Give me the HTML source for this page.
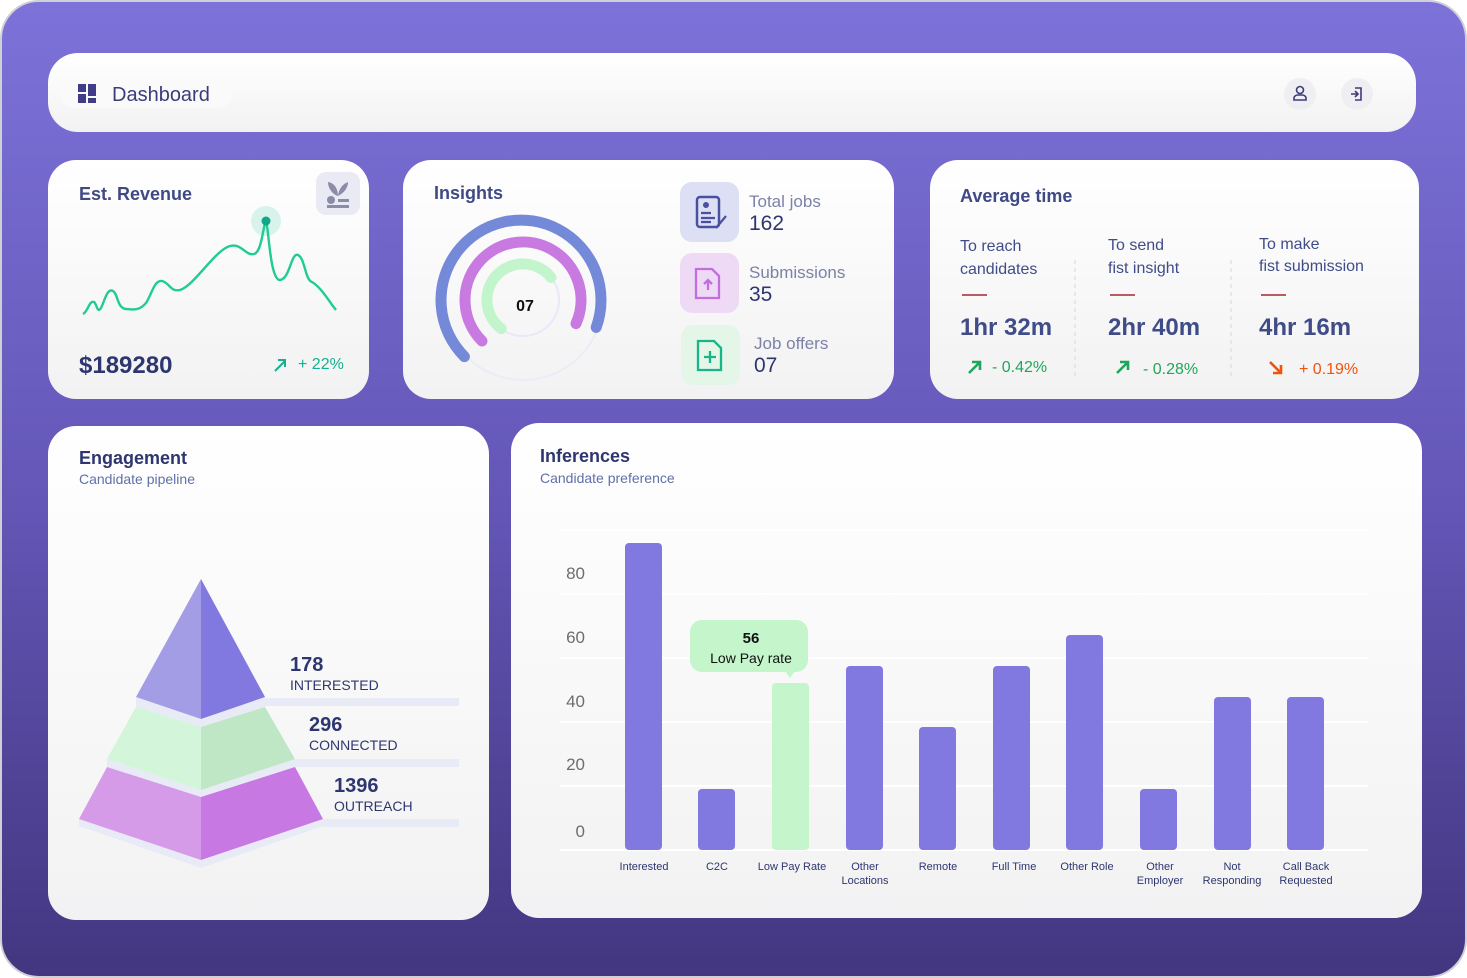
<!DOCTYPE html>
<html><head><meta charset="utf-8"><style>
html,body{margin:0;padding:0;background:#fff;}
svg{display:block;font-family:"Liberation Sans",sans-serif;}
</style></head><body>
<svg width="1467" height="978" viewBox="0 0 1467 978" xmlns="http://www.w3.org/2000/svg">
<defs>
<linearGradient id="bg" x1="0" y1="0" x2="0" y2="1"><stop offset="0" stop-color="#7d72d9"/><stop offset="0.5" stop-color="#6457b8"/><stop offset="1" stop-color="#433680"/></linearGradient>
<linearGradient id="card" x1="0" y1="0" x2="0" y2="1"><stop offset="0" stop-color="#ffffff"/><stop offset="1" stop-color="#f2f2f3"/></linearGradient>
</defs>
<rect x="1" y="1" width="1465" height="976" rx="38" fill="url(#bg)" stroke="#cfcfd6" stroke-width="2"/>
<!-- header -->
<rect x="48" y="53" width="1368" height="79" rx="30" fill="url(#card)"/>
<rect x="60" y="78" width="172" height="30" rx="15" fill="#fafafa"/>
<rect x="78" y="84" width="8" height="8" fill="#3f3d8a"/><rect x="88" y="84" width="8" height="12" fill="#3f3d8a"/><rect x="78" y="94" width="8" height="9" fill="#3f3d8a"/><rect x="88" y="98" width="8" height="5" fill="#3f3d8a"/>
<text x="112" y="101" font-size="20" fill="#3d3b7a">Dashboard</text>
<circle cx="1300" cy="94" r="16" fill="#efeff3"/><circle cx="1357" cy="94" r="16" fill="#efeff3"/>
<circle cx="1300" cy="90" r="3.5" fill="none" stroke="#3d3b7a" stroke-width="1.6"/><path d="M1294 100 h12 v-2 a4 3 0 0 0 -4 -3 h-4 a4 3 0 0 0 -4 3z" fill="none" stroke="#3d3b7a" stroke-width="1.6"/>
<path d="M1355 88 h6 v12 h-6 M1351 94 h7 M1355 91 l3 3 -3 3" fill="none" stroke="#3d3b7a" stroke-width="1.6"/>
<!-- revenue -->
<rect x="48" y="160" width="321" height="239" rx="28" fill="url(#card)"/>
<text x="79" y="200" font-size="18" font-weight="bold" fill="#3f4a85">Est. Revenue</text>
<rect x="316" y="172" width="44" height="43" rx="10" fill="#e9eaf4"/>
<path d="M338 196 c-6 -2 -10 -8 -10 -14 c6 1 10 6 10 14z M338 196 c1 -8 5 -12 10 -14 c0 6 -4 11 -10 14z" fill="#8c8ca8"/><circle cx="331" cy="200" r="4" fill="#8c8ca8"/><rect x="338" y="199" width="11" height="3" fill="#8c8ca8"/><rect x="327" y="205" width="22" height="3" fill="#8c8ca8"/>
<circle cx="266" cy="221" r="15" fill="#d8f3ec"/>
<path d="M83 314 C88 312 89 300 94 302 C97 304 97 314 101 308 C105 300 107 288 113 291 C118 294 117 308 126 309 C135 310 140 310 146 303 C152 294 154 280 162 281 C170 283 170 292 180 290 C195 285 215 250 230 246 C242 243 245 256 254 254 C262 252 263 225 266 221 C269 230 270 280 280 280 C290 279 291 252 298 255 C305 258 305 280 312 282 C322 288 330 303 336 310" fill="none" stroke="#1fcc92" stroke-width="2.4"/>
<circle cx="266" cy="221" r="4.5" fill="#12a58a"/>
<text x="79" y="373" font-size="24" font-weight="bold" fill="#2e3670">$189280</text>
<path d="M275 371 l10 -10 M278 360 h7 v7" fill="none" stroke="#14b08f" stroke-width="2"/>
<text x="298" y="369" font-size="16" fill="#14b08f">+ 22%</text>
<!-- insights -->
<rect x="403" y="160" width="491" height="239" rx="28" fill="url(#card)"/>
<text x="434" y="199" font-size="18" font-weight="bold" fill="#3f4a85">Insights</text>
<circle cx="523" cy="300" r="80" fill="none" stroke="#ececf6" stroke-width="2"/>
<circle cx="523" cy="300" r="36" fill="none" stroke="#e8e8f8" stroke-width="2"/>
<path d="M464.4 356.6 A80 80 0 1 1 596.2 327.4" fill="none" stroke="#7489d8" stroke-width="11" stroke-linecap="round"/>
<path d="M482 341 A58 58 0 1 1 576 323.6" fill="none" stroke="#c97ae0" stroke-width="11" stroke-linecap="round"/>
<path d="M501.3 328.7 A36 36 0 1 1 551 277.4" fill="none" stroke="#c3f5cc" stroke-width="11" stroke-linecap="round"/>
<text x="525" y="311" font-size="16" font-weight="bold" fill="#111" text-anchor="middle">07</text>
<rect x="680" y="182" width="59" height="60" rx="12" fill="#dde0f4"/>
<rect x="697" y="197" width="22" height="30" rx="3" fill="none" stroke="#4a4fa0" stroke-width="2.5"/><circle cx="706" cy="205" r="3" fill="#4a4fa0"/><path d="M701 213 h10 M701 218 h14 M701 222 h10 M716 228 l10 -12" stroke="#4a4fa0" stroke-width="2.2"/>
<text x="749" y="207" font-size="17" fill="#7c82a6">Total jobs</text>
<text x="749" y="230" font-size="21" fill="#2e3670">162</text>
<rect x="680" y="253" width="59" height="60" rx="12" fill="#eedaf5"/>
<path d="M696 269 h16 l7 7 v22 h-23z" fill="none" stroke="#c16ee0" stroke-width="2.3"/><path d="M708 290 v-10 M704 284 l4 -4 4 4" fill="none" stroke="#c16ee0" stroke-width="2.3"/>
<text x="749" y="278" font-size="17" fill="#7c82a6">Submissions</text>
<text x="749" y="301" font-size="21" fill="#2e3670">35</text>
<rect x="681" y="325" width="59" height="60" rx="12" fill="#e3f6e8"/>
<path d="M698 341 h16 l7 7 v22 h-23z" fill="none" stroke="#18b58b" stroke-width="2.3"/><path d="M710 351 v12 M704 357 h12" stroke="#18b58b" stroke-width="2.3"/>
<text x="754" y="349" font-size="17" fill="#7c82a6">Job offers</text>
<text x="754" y="372" font-size="21" fill="#2e3670">07</text>
<!-- average time -->
<rect x="930" y="160" width="489" height="239" rx="28" fill="url(#card)"/>
<text x="960" y="202" font-size="18" font-weight="bold" fill="#3f4a85">Average time</text>
<g font-size="16" fill="#404c88">
<text x="960" y="251">To reach</text><text x="960" y="274">candidates</text>
<text x="1108" y="250">To send</text><text x="1108" y="273">fist insight</text>
<text x="1259" y="249">To make</text><text x="1259" y="271">fist submission</text>
</g>
<path d="M962 295 h25 M1110 295 h25 M1261 295 h25" stroke="#b85c62" stroke-width="2"/>
<path d="M1075 260 v118 M1231 260 v118" stroke="#d6d6de" stroke-width="1" stroke-dasharray="4 4"/>
<g font-size="24" font-weight="bold" fill="#404c88">
<text x="960" y="335">1hr 32m</text><text x="1108" y="335">2hr 40m</text><text x="1259" y="335">4hr 16m</text></g>
<path d="M969 373 l11 -11 M972 362 h8 v8 M1117 373 l11 -11 M1120 362 h8 v8" fill="none" stroke="#1fa65a" stroke-width="2.6"/>
<path d="M1270 362 l11 11 M1273 373 h8 v-8" fill="none" stroke="#f2520a" stroke-width="2.6"/>
<text x="992" y="372" font-size="16" fill="#1fa65a">- 0.42%</text>
<text x="1143" y="374" font-size="16" fill="#1fa65a">- 0.28%</text>
<text x="1299" y="374" font-size="16" fill="#f2520a">+ 0.19%</text>
<!-- engagement -->
<rect x="48" y="426" width="441" height="494" rx="28" fill="url(#card)"/>
<text x="79" y="464" font-size="18" font-weight="bold" fill="#2e3670">Engagement</text>
<text x="79" y="484" font-size="14" fill="#6070a8">Candidate pipeline</text>
<rect x="265" y="698" width="194" height="8" fill="#e8eaf6"/>
<rect x="295" y="759" width="164" height="8" fill="#e8eaf6"/>
<rect x="323" y="819" width="136" height="8" fill="#e8eaf6"/>
<path d="M79 819 L201 860 L323 819 L323 826 L201 868 L79 826Z" fill="#e8eaf6"/>
<path d="M107 759 L201 790 L295 759 L295 767 L201 797 L107 767Z" fill="#e8eaf6"/>
<path d="M136 697 L201 719 L265 697 L265 707 L201 727 L136 707Z" fill="#e8eaf6"/>
<path d="M201 579 L136 697 L201 719Z" fill="#a39de6"/><path d="M201 579 L265 697 L201 719Z" fill="#8179e0"/>
<path d="M136 707 L107 759 L201 790 L201 727Z" fill="#d3f5da"/><path d="M265 707 L295 759 L201 790 L201 727Z" fill="#bfe6c5"/>
<path d="M107 767 L79 819 L201 860 L201 797Z" fill="#d59be8"/><path d="M295 767 L323 819 L201 860 L201 797Z" fill="#c878e3"/>
<g fill="#2e3670"><text x="290" y="671" font-size="20" font-weight="bold">178</text><text x="290" y="690" font-size="14">INTERESTED</text>
<text x="309" y="731" font-size="20" font-weight="bold">296</text><text x="309" y="750" font-size="14">CONNECTED</text>
<text x="334" y="792" font-size="20" font-weight="bold">1396</text><text x="334" y="811" font-size="14">OUTREACH</text></g>
<!-- inferences -->
<rect x="511" y="423" width="911" height="495" rx="28" fill="url(#card)"/>
<text x="540" y="462" font-size="18" font-weight="bold" fill="#2e3670">Inferences</text>
<text x="540" y="483" font-size="14" fill="#6070a8">Candidate preference</text>
<g stroke="#ffffff" stroke-width="2"><path d="M560 530 H1368 M560 594 H1368 M560 658 H1368 M560 722 H1368 M560 786 H1368 M560 850 H1368"/></g>
<g font-size="17" fill="#6c6c74" text-anchor="end"><text x="585" y="579">80</text><text x="585" y="643">60</text><text x="585" y="707">40</text><text x="585" y="770">20</text><text x="585" y="837">0</text></g>
<g fill="#8179e0">
<rect x="625" y="543" width="37" height="307" rx="4"/>
<rect x="698" y="789" width="37" height="61" rx="4"/>
<rect x="846" y="666" width="37" height="184" rx="4"/>
<rect x="919" y="727" width="37" height="123" rx="4"/>
<rect x="993" y="666" width="37" height="184" rx="4"/>
<rect x="1066" y="635" width="37" height="215" rx="4"/>
<rect x="1140" y="789" width="37" height="61" rx="4"/>
<rect x="1214" y="697" width="37" height="153" rx="4"/>
<rect x="1287" y="697" width="37" height="153" rx="4"/>
</g>
<rect x="772" y="683" width="37" height="167" rx="4" fill="#c4f5cb"/>
<rect x="690" y="620" width="118" height="52" rx="12" fill="#c4f5cb"/>
<path d="M785 671 l5 7 l5 -7z" fill="#c4f5cb"/>
<text x="751" y="643" font-size="15" font-weight="bold" fill="#111" text-anchor="middle">56</text>
<text x="751" y="663" font-size="14" fill="#111" text-anchor="middle">Low Pay rate</text>
<g font-size="11" fill="#2e3670" text-anchor="middle">
<text x="644" y="870">Interested</text><text x="717" y="870">C2C</text><text x="792" y="870">Low Pay Rate</text>
<text x="865" y="870">Other</text><text x="865" y="884">Locations</text>
<text x="938" y="870">Remote</text><text x="1014" y="870">Full Time</text><text x="1087" y="870">Other Role</text>
<text x="1160" y="870">Other</text><text x="1160" y="884">Employer</text>
<text x="1232" y="870">Not</text><text x="1232" y="884">Responding</text>
<text x="1306" y="870">Call Back</text><text x="1306" y="884">Requested</text></g>
</svg>
</body></html>
